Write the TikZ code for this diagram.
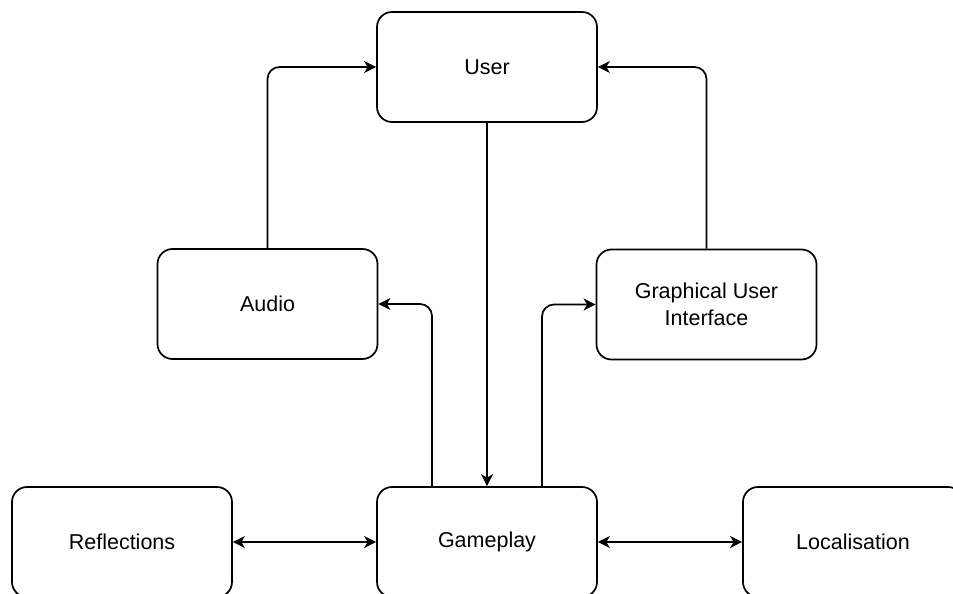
\documentclass[tikz,border=0pt]{standalone}
\usepackage{fontspec}
\setmainfont{Liberation Sans}
\usetikzlibrary{arrows.meta}
\begin{document}
\begin{tikzpicture}[x=1pt,y=-1pt,
  tip/.style={Stealth[length=12pt,width=12pt,inset=3.5pt]},
  block/.style={draw, line width=1.7pt, rounded corners=15pt,
    minimum width=220pt, minimum height=110pt, inner sep=0pt,
    align=center, font=\fontsize{21.5}{27}\selectfont},
  link/.style={line width=1.7pt, rounded corners=12pt, -{Stealth[length=12pt,width=12pt,inset=3.5pt]}},
  both/.style={line width=1.7pt,
    {Stealth[length=12pt,width=12pt,inset=3.5pt]}-{Stealth[length=12pt,width=12pt,inset=3.5pt]}}]
\useasboundingbox (0,0) rectangle (953,594);
\clip (0,0) rectangle (953,594);
% components
\node[block] (user)  at (487,67)    {User};
\node[block] (audio) at (267.5,304) {Audio};
\node[block] (gui)   at (706.5,304.5) {Graphical User\\Interface};
\node[block] (refl)  at (122,542)   {Reflections};
\node[block] (game)  at (487,542)   {Gameplay};
\node[block] (loc)   at (853,542)   {Localisation};
% feedback paths to the user
\draw[link] (audio.north) |- (user.west);
\draw[link] (gui.north) |- (user.east);
% user input into gameplay
\draw[link] (user) -- (game);
% gameplay outputs
\coordinate (gl) at ([xshift=-55pt]game.north);
\coordinate (gr) at ([xshift=55pt]game.north);
\draw[link] (gl) |- (audio.east);
\draw[link] (gr) |- (gui.west);
% two-way exchanges
\draw[both] (refl) -- (game);
\draw[both] (game) -- (loc);
\end{tikzpicture}
\end{document}
